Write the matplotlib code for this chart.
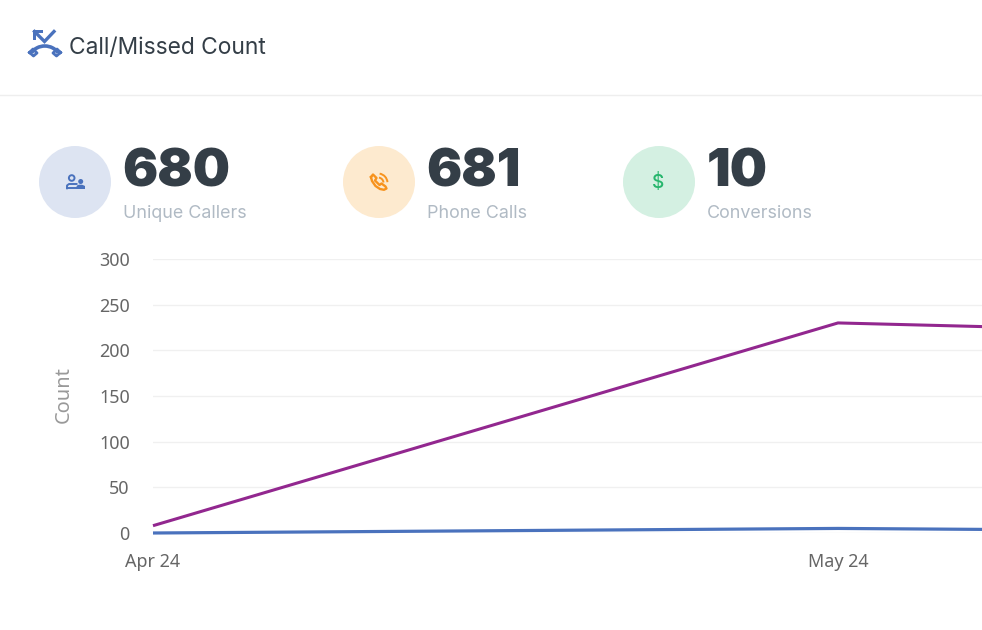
import matplotlib
matplotlib.use('Agg')
import matplotlib.pyplot as plt
from matplotlib.patches import Circle, Arc
import numpy as np

months = ['Apr 24', 'May 24', 'Jun 24']
calls = [8, 230, 211]
missed = [0, 5, 0]
y_ticks = [0, 50, 100, 150, 200, 250, 300]

stat_values = ['680', '681', '10']
stat_labels = ['Unique Callers', 'Phone Calls', 'Conversions']

W, H = 982, 630
px = 0.72  # css px to pt at dpi 100
DARK = '#343e47'
MUTED = '#b0bac4'
BLUE = '#4a72bd'
ORANGE = '#f7931e'
GREEN = '#27b66d'
PURPLE = '#92278f'

fig = plt.figure(figsize=(W / 100, H / 100), dpi=100, facecolor='white')

# chart
ax = fig.add_axes([153 / W, (H - 533) / H, (W - 153) / W, 274 / H])
x = np.arange(len(months))
ax.plot(x, calls, color=PURPLE, lw=2.2, solid_capstyle='butt', clip_on=False, zorder=3)
ax.plot(x, missed, color=BLUE, lw=2.3, solid_capstyle='butt', clip_on=False, zorder=3)
ax.set_xlim(0, (W - 153) / 685)
ax.set_ylim(0, 300)
ax.set_yticks(y_ticks)
ax.set_xticks(x[:2])
ax.set_xticklabels(months[:2])
ax.grid(axis='y', color='#f0f0f0', lw=1)
ax.set_axisbelow(True)
for s in ax.spines.values():
    s.set_visible(False)
ax.tick_params(length=0, labelcolor='#666666')
ax.tick_params(axis='x', pad=14.5)
ax.tick_params(axis='y', pad=16.7)
for t in ax.get_xticklabels() + ax.get_yticklabels():
    t.set_fontfamily('Noto Sans')
    t.set_fontsize(18 * px)
ax.text(64 / W, (H - 395) / H, 'Count', transform=fig.transFigure, rotation=90, ha='center',
        va='center', color='#999999', fontsize=20 * px, family='Noto Sans')

# overlay in pixel coordinates for the header and stat cards
ov = fig.add_axes([0, 0, 1, 1], zorder=5)
ov.set_xlim(0, W)
ov.set_ylim(H, 0)
ov.axis('off')
ov.patch.set_alpha(0)

ov.plot([0, W], [95, 95], color='#eeeeee', lw=1)
ov.text(69, 48, 'Call/Missed Count', color=DARK, fontsize=22.8 * px, family='Inter', va='center', ha='left')

# title icon: arrow over handset
ov.plot([34.5, 44.5, 54], [31.5, 41.5, 31.5], color=BLUE, lw=2.4, solid_joinstyle='miter')
ov.fill([33.5, 43, 43, 36, 36, 33.5], [30, 30, 32.5, 32.5, 40, 40], color=BLUE, lw=0)
ov.add_patch(Arc((44.8, 59), 30, 26, theta1=205, theta2=335, color=BLUE, lw=2.6))
ov.plot([29.5, 33.5, 37, 33, 29.5], [52.5, 56, 53, 49, 52.5], color=BLUE, lw=2)
ov.plot([60.5, 56.5, 53, 57, 60.5], [52.5, 56, 53, 49, 52.5], color=BLUE, lw=2)

cards = [(75, '#dde4f2', 123), (379, '#fdeacf', 427), (659, '#d4f0e2', 707)]
for (cx, bg, tx), val, lab in zip(cards, stat_values, stat_labels):
    ov.add_patch(Circle((cx, 182), 36, color=bg, lw=0))
    ov.text(tx - 0.7, 173, val, color=DARK, fontsize=52.5 * px, family='Inter', fontweight=900, va='center', ha='left')
    ov.text(tx, 214, lab, color=MUTED, fontsize=17.9 * px, family='Inter', va='center', ha='left')

# people icon
ov.add_patch(Circle((71.7, 178), 2.8, fill=False, ec=BLUE, lw=1.4))
ov.plot([67, 67, 69, 76, 76.5], [188.3, 185.5, 184, 184, 184], color=BLUE, lw=1.4)
ov.plot([67, 76], [188.3, 188.3], color=BLUE, lw=1.4)
ov.add_patch(Circle((80.7, 181.5), 2.5, color=BLUE, lw=0))
ov.fill([76, 77, 79, 82, 84, 85, 85, 76], [188, 185.5, 184.7, 184.7, 185.5, 186, 189, 189], color=BLUE, lw=0)

# phone icon
ov.plot([371, 373, 376.5, 375, 379.5, 381.5, 385.5, 386.5, 384, 380, 375.5, 372, 371],
        [177, 174.5, 178, 180.5, 185, 183.5, 186.5, 188.5, 189.8, 189, 186, 181, 177],
        color=ORANGE, lw=1.7, solid_joinstyle='round')
ov.add_patch(Arc((378, 183), 11, 11, theta1=-80, theta2=-5, color=ORANGE, lw=1.4))
ov.add_patch(Arc((378, 183), 19, 19, theta1=-80, theta2=-5, color=ORANGE, lw=1.4))

# dollar icon
ov.text(658.5, 183, '$', color=GREEN, fontsize=19 * px, family='Inter', fontweight='medium', va='center', ha='center')

fig.savefig('out.png', dpi=100)
